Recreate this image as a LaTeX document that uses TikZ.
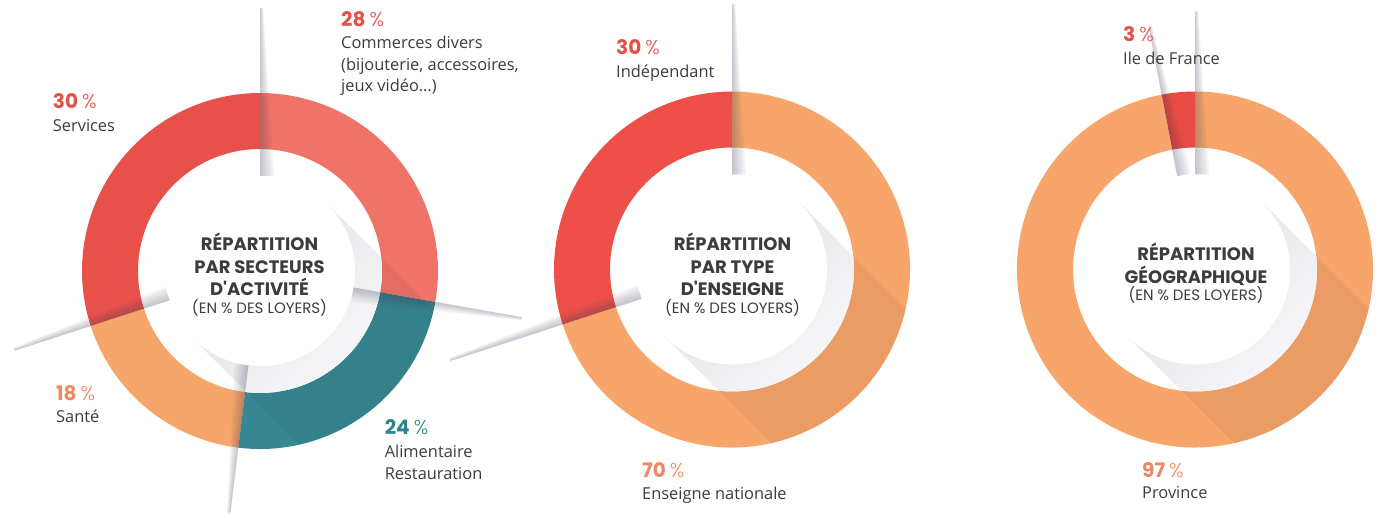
\documentclass[tikz,border=0pt]{standalone}
\usepackage{fontspec}
\usepackage{xcolor}
\setmainfont{Open Sans}
\newfontfamily\titlefont{Poppins}
\newfontfamily\pctlight{Poppins Light}
\usetikzlibrary{positioning}

\definecolor{services}{HTML}{E8514A}
\definecolor{commerces}{HTML}{F07368}
\definecolor{sante}{HTML}{F6A66B}
\definecolor{alim}{HTML}{378893}
\definecolor{indep}{HTML}{EE5049}
\definecolor{nationale}{HTML}{F7A56A}
\definecolor{idf}{HTML}{E84B43}
\definecolor{txt}{HTML}{3C3C3B}
\definecolor{pctred}{HTML}{E4514A}
\definecolor{pctorange}{HTML}{EE8A63}
\definecolor{pctteal}{HTML}{2F8490}
\definecolor{shadowtint}{HTML}{3C3C5A}
\definecolor{shdark}{HTML}{D6D6DD}
\definecolor{shlight}{HTML}{F6F6F8}

% one slice of a ring, angles in degrees
\newcommand{\segment}[3]{%
  \fill[#3] (#1:178) arc[start angle=#1, end angle=#2, radius=178]
    -- (#2:122) arc[start angle=#2, end angle=#1, radius=122] -- cycle;}
% thin shadow spike along a slice border
\newcommand{\spike}[2]{%
  \foreach \k in {1,...,8}{
    \fill[shadowtint, opacity=0.04, rotate=#1]
      (95,0) -- (#2,0) -- (#2,-0.4*\k) -- (95,-1.8*\k) -- cycle;}}
% long shadow of the centre disc
\newcommand{\longshadow}{%
  \begin{scope}
    \clip (0,0) circle[radius=178];
    \fill[black, opacity=0.05] (45:95) -- ++(-45:220) -- ++(225:190) -- (225:95) -- cycle;
  \end{scope}
  \begin{scope}
    \clip (0,0) circle[radius=122];
    \clip (45:95) -- ++(-45:220) -- ++(225:190) -- (225:95) -- cycle;
    \shade[top color=shdark, bottom color=shlight, shading angle=45] (-125,-125) rectangle (125,125);
  \end{scope}
  \fill[white] (0,0) circle[radius=95];}
\newcommand{\pct}[2]{{\color{#2}\titlefont\bfseries\fontsize{20}{24}\selectfont #1}\hspace{4pt}{\color{#2}\pctlight\fontsize{20}{24}\selectfont\%}}

\tikzset{
  pct/.style={anchor=base west, inner sep=0pt},
  lbl/.style={anchor=base west, inner sep=0pt, align=left, text=txt, font=\fontsize{16.4}{21.8}\selectfont},
  ctitle/.style={align=center, inner sep=0pt, text=txt, font=\titlefont\bfseries\fontsize{18}{22.5}\selectfont}
}

\begin{document}
\begin{tikzpicture}[x=1pt, y=1pt]
  \useasboundingbox (0,0) rectangle (1379,515);
  \fill[white] (0,0) rectangle (1379,515);

  % Centres
  \coordinate (c1) at (260,244);
  \coordinate (c2) at (732,245.5);
  \coordinate (c3) at (1195,245.5);

  % Secteurs d'activite
  \begin{scope}[shift={(c1)}]
    \segment{90}{198}{services}
    \segment{198}{263}{sante}
    \segment{263}{350}{alim}
    \segment{350}{450}{commerces}
    \longshadow
    \foreach \a/\d in {90/263, 198/258, 263/244, 350/266} {\spike{\a}{\d}}
  \end{scope}

  % Type d'enseigne
  \begin{scope}[shift={(c2)}]
    \segment{90}{198}{indep}
    \segment{198}{450}{nationale}
    \longshadow
    \foreach \a/\d in {90/265, 198/296} {\spike{\a}{\d}}
  \end{scope}

  % Geographie
  \begin{scope}[shift={(c3)}]
    \segment{90}{100.8}{idf}
    \segment{100.8}{450}{nationale}
    \longshadow
    \foreach \a/\d in {90/258, 100.8/247} {\spike{\a}{\d}}
  \end{scope}

  % Titles
  \node[ctitle] (t1) at (259.5,240.5) {RÉPARTITION\\PAR SECTEURS\\D'ACTIVITÉ\\[-5pt]{\mdseries\fontsize{15}{22.5}\selectfont(EN \% DES LOYERS)}};
  \node[ctitle] (t2) at (732.5,240.5) {RÉPARTITION\\PAR TYPE\\D'ENSEIGNE\\[-5pt]{\mdseries\fontsize{15}{22.5}\selectfont(EN \% DES LOYERS)}};
  \node[ctitle] (t3) at (1196,241.5) {RÉPARTITION\\GÉOGRAPHIQUE\\[-5pt]{\mdseries\fontsize{15}{22.5}\selectfont(EN \% DES LOYERS)}};

  % Labels
  \node[pct] (p30) at (52.7,406) {\pct{30}{pctred}};
  \node[lbl] (services) at (52.7,383) {Services};
  \node[pct] (p28) at (341,488.3) {\pct{28}{pctred}};
  \node[lbl] (commerces) at (341,423) {Commerces divers\\(bijouterie, accessoires,\\jeux vidéo…)};
  \node[pct] (p18) at (56,115) {\pct{18}{pctorange}};
  \node[lbl] (sante) at (56,92.3) {Santé};
  \node[pct] (p24) at (384.6,81) {\pct{24}{pctteal}};
  \node[lbl] (alim) at (384.6,35.5) {Alimentaire\\Restauration};

  \node[pct] (p30b) at (616,460) {\pct{30}{pctred}};
  \node[lbl] (indep) at (616,437) {Indépendant};
  \node[pct] (p70) at (642,38) {\pct{70}{pctorange}};
  \node[lbl] (nationale) at (642,16) {Enseigne nationale};

  \node[pct] (p3) at (1123,473) {\pct{3}{pctred}};
  \node[lbl] (idf) at (1123,450) {Ile de France};
  \node[pct] (p97) at (1142,38) {\pct{97}{pctorange}};
  \node[lbl] (province) at (1142,17) {Province};
\end{tikzpicture}
\end{document}
